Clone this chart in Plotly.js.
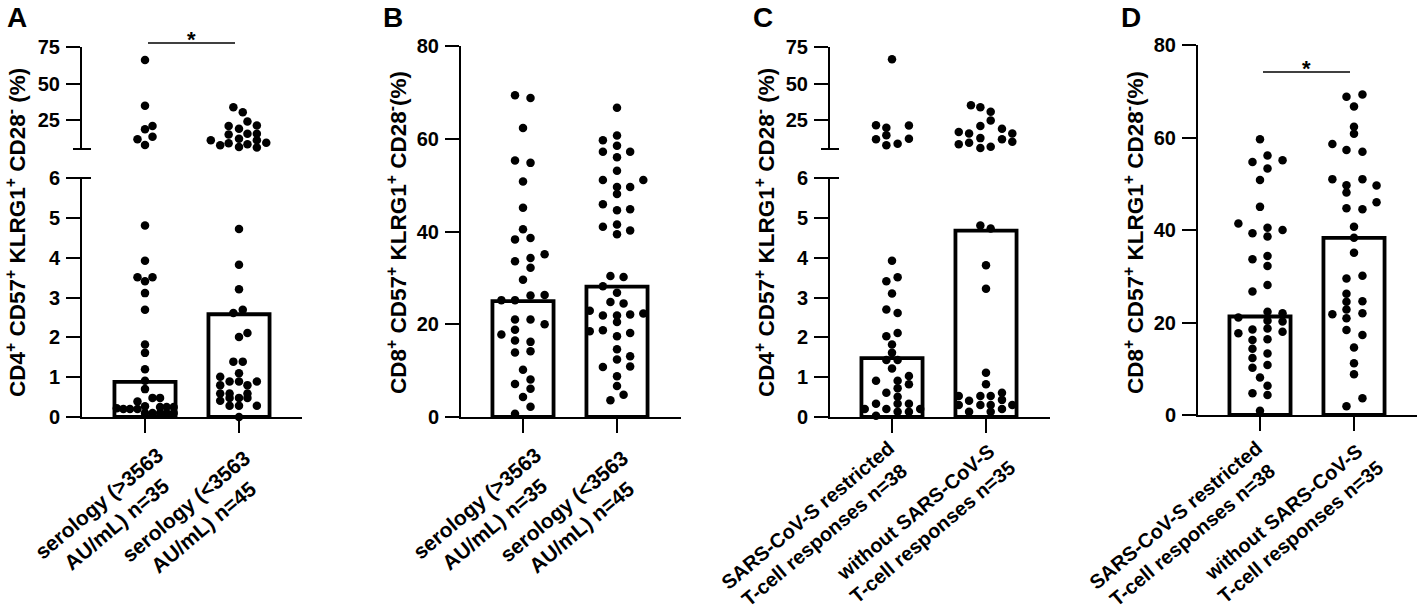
<!DOCTYPE html>
<html><head><meta charset="utf-8">
<script src="https://cdn.plot.ly/plotly-3.0.1.min.js"></script>
<style>html,body{margin:0;padding:0;background:#fff}#chart{width:1417px;height:614px}</style>
</head><body><div id="chart"></div>
<script>
// ---------- DATA ----------
// x tick labels
const serologyLabels = ["serology (>3563<br>AU/mL) n=35", "serology (<3563<br>AU/mL) n=45"];
const responseLabels = ["SARS-CoV-S restricted<br>T-cell responses n=38", "without SARS-CoV-S<br>T-cell responses n=35"];
// bar heights (median)
const barsA = [0.88, 2.58];
const barsB = [25.0, 28.1];
const barsC = [1.48, 4.68];
const barsD = [21.3, 38.3];
// point values, and their beeswarm offset (in 0.1 category steps)
const aG1 = [66.2,35.1,21.2,19.0,14.0,12.2,8.3, 4.81,3.92,3.51,3.41,3.51,3.11,2.69,1.82,1.61,1.20,0.91,0.70,
  0.22,0.20,0.20,0.20,0.39,0.27,0.10,0.48,0.48,0.10,0.25,0.10,0.25,0.10,0.25,0.10];
const aG1Jit = [0,0,0.8,0,0.8,-0.8,0, 0,0,-0.8,0,0.8,0,0,0,0,0,0,0,
  -3.0,-2.3,-1.6,-0.8,-0.8,0,0,0.8,1.6,0.8,1.6,1.6,2.3,2.3,3.05,3.05];
const aG2 = [34.0,30.6,24.3,21.2,21.6,19.4,15.5,16.0,16.0,12.6,11.5,11.5,9.5,8.8,9.9,8.1,7.0,6.6,
  4.72,3.82,3.21,2.69,2.61,2.11,2.01,1.39,1.39,1.10,
  1.01,0.89,0.89,0.89,0.80,0.80,0.59,0.59,0.59,0.41,0.48,0.48,0.48,0.28,0.28,0.28,0.0];
const aG2Jit = [-0.6,0.4,0.9,-1.1,1.9,0,-1.1,0.9,1.9,0,1.9,-3.0,-1.1,0.9,2.9,-2.0,0,1.9,
  0,0,0,0.4,-0.6,0.9,0,-0.6,0.4,0,
  -2.0,-1.0,0,1.9,-2.0,0.9,-2.0,-1.0,0.9,-2.0,-1.0,0,0.9,-1.0,0,1.9,0];
const bG1 = [69.4,68.8,62.3,55.3,54.8,50.8,45.1,40.5,38.3,38.6,33.6,34.3,35.1,32.2,29.6,25.2,25.2,26.2,26.3,
  21.0,21.0,20.0,17.8,18.8,16.5,16.2,13.9,14.2,10.2,8.1,7.1,6.1,4.3,2.2,0.7];
const bG1Jit = [-0.85,0.8,0,-0.85,0.8,0,0,0,-0.85,0.8,-0.85,0.8,2.3,0.8,0,-2.3,-0.85,0.8,2.3,
  -0.85,0.8,2.3,-2.3,-0.85,-0.85,0.8,-0.85,0.8,0,0.8,-0.85,0.8,0,0.8,-0.85];
const bG2 = [66.7,60.7,59.7,58.5,57.2,57.2,56.0,53.1,51.1,51.1,49.6,49.6,48.1,45.9,44.6,44.8,41.0,41.5,40.2,39.4,
  30.4,30.2,28.2,26.8,24.8,24.5,22.9,21.9,21.9,22.1,22.3,20.5,18.5,18.7,18.1,17.4,14.6,12.4,13.1,10.8,10.9,8.8,6.7,4.8,3.6];
const bG2Jit = [0,0,-1.5,0,-1.5,1.4,0,0,-1.5,2.8,0,1.4,0,-1.5,0,1.4,-1.5,0,1.4,0,
  -0.7,0.7,-1.5,0,-0.7,0.7,-2.9,-1.5,0,1.4,2.8,0,-2.9,-1.5,1.4,0,0,0,1.4,-1.5,1.4,0,0,0.7,-0.7];
const cG1 = [66.7,21.8,20.1,21.6,14.9,12.2,12.6,8.1,9.2,
  3.92,3.41,3.51,3.10,2.70,2.61,2.03,2.11,1.82,1.61,1.43,1.43,1.22,0.91,0.91,1.03,0.82,0.72,0.61,0.51,
  0.33,0.33,0.33,0.20,0.20,0.20,0.13,0.13,0.03];
const cG1Jit = [0,-1.7,-0.6,1.8,-0.6,-1.7,1.8,-0.6,0.6,
  0,-0.6,0.6,0,-0.6,0.6,-0.6,0.6,0,0,-0.6,0.6,0,-1.7,0.6,1.8,1.8,0.6,-0.6,0.6,
  -1.7,0.6,1.8,-2.9,-0.6,3.0,0.6,1.8,-1.7];
const cG2 = [35.3,34.0,30.9,25.0,21.2,19.4,17.1,16.2,13.0,16.2,12.2,10.6,8.8,9.9,6.3,7.2,
  4.81,4.73,3.81,3.22,1.11,0.82,0.61,0.53,0.53,0.53,0.43,0.41,0.30,0.30,0.30,0.30,0.20,0.13,0.13];
const cG2Jit = [-1.6,-0.6,0.5,0.5,-0.6,1.7,-2.9,-1.8,-0.6,2.8,1.7,2.8,-2.9,-1.8,-0.6,0.5,
  -0.6,0.5,0,0,0,0,1.7,-2.9,-0.6,0.5,1.7,-1.8,-2.9,-0.6,0.5,2.8,1.7,-1.8,0.5];
const dG1 = [59.6,54.7,56.1,55.1,53.3,50.8,45.0,41.4,39.3,40.5,40.0,38.6,33.7,34.4,32.2,28.1,26.7,
  21.1,22.3,22.0,20.4,20.2,17.7,18.5,18.7,18.0,16.2,16.4,14.3,13.3,12.3,10.2,10.8,8.1,4.7,6.3,4.3,0.9];
const dG1Jit = [0,-0.8,0.8,2.4,0.8,0,0,-2.3,-0.8,0.8,2.4,0.8,-0.8,0.8,0.8,0.8,-0.8,
  -2.3,0.8,2.4,0.8,2.4,-2.3,-0.8,0.8,2.4,-0.8,0.8,-0.8,0.8,-0.8,-0.8,0.8,0,-0.8,0.8,0.8,0];
const dG2 = [68.8,69.3,66.7,62.3,60.8,58.6,57.3,56.9,51.0,49.7,51.0,49.6,48.1,46.0,44.7,44.5,40.7,38.3,35.1,
  29.5,30.1,26.2,24.5,24.6,21.8,22.8,20.9,22.0,18.4,17.3,14.6,11.2,8.8,3.6,1.9];
const dG2Jit = [-0.8,0.9,0,0,0,-2.3,-0.8,0.9,-2.3,-0.8,0.9,2.4,-0.8,2.4,-0.8,0.9,0,0,0,
  -0.8,0.9,-0.8,-0.8,0.9,-2.3,-0.8,-0.8,0.9,-0.8,0.9,0,0,0,0.9,-0.8];

// ---------- LAYOUT HELPERS ----------
const W = 1417, H = 614;
const fx = p => p / W, fy = p => 1 - p / H;
const FONT = 'Liberation Sans, Arial, sans-serif';
const STEP = 0.1, CATPX = 94;
const tickF = {family: FONT, size: 20, color: '#000', weight: 700};

// lblOff: centre of each rotated category label block, relative to its tick (px)
const panels = [
  {id:'A', ax:82, end:302, c0:145, labels:serologyLabels, bars:barsA, g:[[aG1,aG1Jit],[aG2,aG2Jit]], broken:true,
   title:'CD4<sup>+</sup> CD57<sup>+</sup> KLRG1<sup>+</sup> CD28<sup>-</sup> (%)', tx:16, letterX:17, sig:[148,235,43],
   lblOff:[[-38,514],[-45,517]], lblSize:21},
  {id:'B', ax:461, end:681, c0:523, labels:serologyLabels, bars:barsB, g:[[bG1,bG1Jit],[bG2,bG2Jit]], broken:false, y0:417, yTop:46,
   title:'CD8<sup>+</sup> CD57<sup>+</sup> KLRG1<sup>+</sup> CD28<sup>-</sup>(%)', tx:397, letterX:393,
   lblOff:[[-38,514],[-45,517]], lblSize:21},
  {id:'C', ax:830, end:1050, c0:892, labels:responseLabels, bars:barsC, g:[[cG1,cG1Jit],[cG2,cG2Jit]], broken:true,
   title:'CD4<sup>+</sup> CD57<sup>+</sup> KLRG1<sup>+</sup> CD28<sup>-</sup> (%)', tx:765, letterX:763,
   lblOff:[[-76,525],[-62,522]], lblSize:20},
  {id:'D', ax:1198, end:1417, c0:1260, labels:responseLabels, bars:barsD, g:[[dG1,dG1Jit],[dG2,dG2Jit]], broken:false, y0:415, yTop:45,
   title:'CD8<sup>+</sup> CD57<sup>+</sup> KLRG1<sup>+</sup> CD28<sup>-</sup>(%)', tx:1134, letterX:1131, sig:[1263,1350,72],
   lblOff:[[-76,525],[-62,522]], lblSize:20}
];

const layout = {width: W, height: H, margin:{l:0,r:0,t:0,b:0}, showlegend:false,
  paper_bgcolor:'#fff', plot_bgcolor:'rgba(0,0,0,0)', font:{family:FONT, color:'#000', weight:700},
  shapes:[], annotations:[]};
const traces = [];
let yi = 1;
panels.forEach((p, i) => {
  const xn = i + 1, xk = xn === 1 ? 'xaxis' : 'xaxis' + xn, xr = xn === 1 ? 'x' : 'x' + xn;
  const lowN = yi, lowK = lowN === 1 ? 'yaxis' : 'yaxis' + lowN, lowR = lowN === 1 ? 'y' : 'y' + lowN;
  yi++;
  layout[xk] = {domain:[fx(p.ax), fx(p.end)], range:[(p.ax - p.c0)/CATPX, (p.end - p.c0)/CATPX], anchor: lowR,
    showline:true, linewidth:2, linecolor:'#000', ticks:'outside', ticklen:14, tickwidth:2, tickcolor:'#000',
    tickvals:[0,1], showticklabels:false, showgrid:false, zeroline:false, fixedrange:true};
  const yBase = {anchor: xr, showline:true, linewidth:2, linecolor:'#000', ticks:'outside', ticklen:14, tickwidth:2,
    tickcolor:'#000', tickfont:tickF, showgrid:false, zeroline:false, fixedrange:true, ticklabelstandoff:2};
  let upR = null;
  if (p.broken) {
    layout[lowK] = Object.assign({}, yBase, {domain:[fy(417), fy(178)], range:[0,6], tickvals:[0,1,2,3,4,5,6]});
    const upN = yi, upK = 'yaxis' + upN; upR = 'y' + upN; yi++;
    layout[upK] = Object.assign({}, yBase, {domain:[fy(149), fy(47)], range:[5.6,75], tickvals:[25,50,75]});
    [149, 178].forEach(py => layout.shapes.push({type:'line', xref:'paper', yref:'paper',
      x0:fx(p.ax - 9), x1:fx(p.ax + 9), y0:fy(py), y1:fy(py), line:{color:'#000', width:2}}));
  } else {
    layout[lowK] = Object.assign({}, yBase, {domain:[fy(p.y0), fy(p.yTop)], range:[0,80], tickvals:[0,20,40,60,80]});
  }
  traces.push({type:'bar', x:[0,1], y:p.bars, width:0.65, xaxis:xr, yaxis:lowR,
    marker:{color:'#fff', line:{color:'#000', width:3.8}}, hoverinfo:'skip'});
  p.g.forEach(([vals, jit], gi) => {
    const lo = {x:[], y:[]}, hi = {x:[], y:[]};
    vals.forEach((v, k) => {
      const t = (p.broken && v > 6) ? hi : lo;
      t.x.push(gi + jit[k] * STEP); t.y.push(v);
    });
    traces.push({type:'scatter', mode:'markers', x:lo.x, y:lo.y, xaxis:xr, yaxis:lowR, cliponaxis:false,
      marker:{size:8.5, color:'#000'}, hoverinfo:'skip'});
    if (hi.x.length) traces.push({type:'scatter', mode:'markers', x:hi.x, y:hi.y, xaxis:xr, yaxis:upR, cliponaxis:false,
      marker:{size:8.5, color:'#000'}, hoverinfo:'skip'});
    // rotated, centre-aligned category label
    const tickPx = p.c0 + gi * CATPX;
    layout.annotations.push({xref:'paper', yref:'paper', x:fx(tickPx + p.lblOff[gi][0]), y:fy(p.lblOff[gi][1]),
      text:p.labels[gi], textangle:-40, align:'center', showarrow:false, xanchor:'center', yanchor:'middle',
      font:{family:FONT, size:p.lblSize, color:'#000', weight:700}});
  });
  layout.annotations.push({xref:'paper', yref:'paper', x:fx(p.tx), y:fy(233), text:p.title, textangle:-90,
    showarrow:false, xanchor:'center', yanchor:'middle', font:{family:FONT, size:22.5, color:'#000', weight:700}});
  layout.annotations.push({xref:'paper', yref:'paper', x:fx(p.letterX), y:fy(17), text:p.id, showarrow:false,
    xanchor:'center', yanchor:'middle', font:{family:FONT, size:28, color:'#000', weight:700}});
  if (p.sig) {
    layout.shapes.push({type:'line', xref:'paper', yref:'paper', x0:fx(p.sig[0]), x1:fx(p.sig[1]), y0:fy(p.sig[2]), y1:fy(p.sig[2]),
      line:{color:'#000', width:1.6}});
    layout.annotations.push({xref:'paper', yref:'paper', x:fx((p.sig[0]+p.sig[1])/2), y:fy(p.sig[2]-4), text:'*',
      showarrow:false, xanchor:'center', yanchor:'middle', font:{family:FONT, size:22, color:'#000', weight:700}});
  }
});

Plotly.newPlot('chart', traces, layout, {staticPlot:true, displayModeBar:false});
</script></body></html>
